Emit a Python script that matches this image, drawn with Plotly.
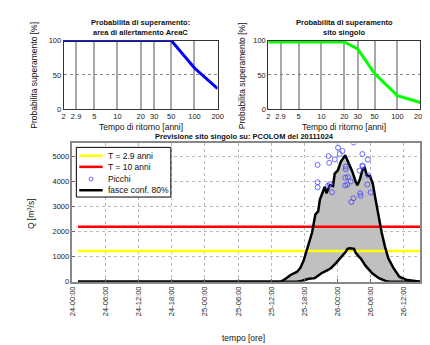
import plotly.graph_objects as go
import pandas as pd

# ---------------- data ----------------
return_periods = [2, 2.9, 5, 10, 20, 30, 50, 100, 200]
return_tick_labels = ["2", "2.9", "5", "10", "20", "30", "50", "100", "200"]
prob_area = [100, 100, 100, 100, 100, 100, 100, 60, 30]
prob_sito = [98, 98, 98, 98, 98, 88, 52, 20, 10]

start_time = "2011-10-24 00:00"
upper_hours = [1, 37.8, 38.6, 39.5, 40.7, 41.3, 41.9, 42.5, 42.8, 43.4, 44.0, 44.5, 44.8,
               45.4, 45.7, 46.0, 46.6, 47.2, 47.5, 48.1, 48.6, 49.4, 49.9, 50.7, 51.3,
               51.6, 52.1, 52.5, 52.9, 53.3, 53.9, 54.4, 54.8, 55.4, 56.0, 56.6, 57.2,
               58.1, 59.2, 60.4, 62.2, 63]
upper_q = [0, 10, 120, 270, 400, 560, 860, 1270, 1470, 1960, 2680, 2800, 3260,
           3650, 3780, 3520, 3840, 3810, 4300, 4440, 4770, 5030, 4770, 4380, 3970,
           3840, 4100, 4440, 4560, 4240, 4200, 3900, 3390, 2670, 1960, 1400, 930,
           560, 200, 80, 10, 0]
lower_hours = [1, 40.7, 41.6, 42.8, 43.9, 45.1, 46.3, 46.9, 47.8, 48.6, 49.5, 49.8,
               50.3, 51.0, 51.3, 51.9, 52.2, 53.1, 54.3, 55.5, 56.7, 57.5, 63]
lower_q = [0, 0, 40, 120, 145, 340, 470, 560, 760, 950, 1190, 1310,
           1330, 1310, 1150, 990, 930, 630, 340, 140, 30, 0, 0]

peak_hours = [44.4, 44.4, 44.4, 46.4, 46.5, 46.3, 46.6, 47.0, 47.5, 48.1, 48.4, 48.9,
              49.5, 49.5, 49.4, 49.9, 50.4, 49.4, 49.8, 50.9, 50.9, 50.5, 52.0, 52.5,
              52.6, 52.5, 53.5, 53.6, 53.4, 54.0, 52.1, 52.2]
peak_q = [4650, 3960, 3760, 5000, 4730, 3820, 3880, 3560, 4870, 5330, 5080, 5200,
          4580, 4480, 4140, 4160, 3990, 3830, 3870, 5540, 3320, 3170, 4420, 4620,
          4590, 5080, 4860, 4230, 3870, 3550, 3520, 3420]

threshold_hours = [1, 63]
q_t29 = 1220
q_t10 = 2190

time_ticks_hours = [0, 6, 12, 18, 24, 30, 36, 42, 48, 54, 60]
legend_labels = ["T = 2.9 anni", "T = 10 anni", "Picchi", "fasce conf. 80%"]

# ---------------- helpers ----------------
t0 = pd.Timestamp(start_time)
def to_time(hours):
    return [t0 + pd.Timedelta(hours=h) for h in hours]

W, H = 430, 345
def px_x(a, b):
    return [a / W, b / W]
def px_y(top, bottom):
    return [1 - bottom / H, 1 - top / H]
def fx(x):
    return x / W
def fy(y):
    return 1 - y / H

FONT = "Liberation Sans, Arial, sans-serif"
fig = go.Figure()

# ---------------- top subplots ----------------
fig.add_trace(go.Scatter(x=return_periods, y=prob_area, mode="lines",
                         line=dict(color="#0000ff", width=3), showlegend=False,
                         xaxis="x2", yaxis="y2"))
fig.add_trace(go.Scatter(x=return_periods, y=prob_sito, mode="lines",
                         line=dict(color="#00ff00", width=3), showlegend=False,
                         xaxis="x3", yaxis="y3"))

# ---------------- main plot ----------------
tu = to_time(upper_hours)
tl = to_time(lower_hours)
tth = to_time(threshold_hours)

fig.add_trace(go.Scatter(x=tl, y=lower_q, mode="lines", line=dict(width=0, color="#c0c0c0"),
                         showlegend=False, hoverinfo="skip"))
fig.add_trace(go.Scatter(x=tu, y=upper_q, mode="lines", line=dict(width=0, color="#c0c0c0"),
                         fill="tonexty", fillcolor="#c0c0c0", showlegend=False, hoverinfo="skip"))
fig.add_trace(go.Scatter(x=tth, y=[q_t29, q_t29], mode="lines", name=legend_labels[0],
                         line=dict(color="#ffff00", width=2.5), showlegend=False))
fig.add_trace(go.Scatter(x=tth, y=[q_t10, q_t10], mode="lines", name=legend_labels[1],
                         line=dict(color="#ff0000", width=2.5), showlegend=False))
fig.add_trace(go.Scatter(x=tl, y=lower_q, mode="lines", line=dict(color="black", width=2.5),
                         showlegend=False))
fig.add_trace(go.Scatter(x=tu, y=upper_q, mode="lines", name=legend_labels[3],
                         line=dict(color="black", width=2.5), showlegend=False))
fig.add_trace(go.Scatter(x=to_time(peak_hours), y=peak_q, mode="markers", name=legend_labels[2],
                         marker=dict(symbol="circle-open", color="rgba(70,70,255,0.8)", size=5,
                                     line=dict(width=1)), showlegend=False))

tickfont = dict(family=FONT, size=7.5, color="#222")
top_x_common = dict(type="log", range=[0.30103, 2.30103], tickvals=return_periods,
                    ticktext=return_tick_labels, tickfont=tickfont, showgrid=True,
                    gridcolor="#a8a8a8", gridwidth=2, showline=True, linecolor="#333",
                    linewidth=1, mirror=True, ticks="", zeroline=False, fixedrange=True)
top_y_common = dict(range=[0, 100], tickvals=[0, 50, 100], tickfont=tickfont,
                    showgrid=True, gridcolor="#888", griddash="dot", gridwidth=1,
                    showline=True, linecolor="#333", linewidth=1, mirror=True,
                    ticks="", zeroline=False)

fig.update_layout(
    width=W, height=H,
    margin=dict(l=0, r=0, t=0, b=0),
    paper_bgcolor="white", plot_bgcolor="white",
    font=dict(family=FONT, size=7.5, color="#222"),
    showlegend=False,
    xaxis=dict(domain=px_x(61, 418), type="date",
               range=[t0, t0 + pd.Timedelta(hours=63)],
               tickvals=to_time(time_ticks_hours), tickformat="%d-%H:%M",
               tickangle=-90, tickfont=tickfont, showgrid=True, gridcolor="#b8b8b8",
               griddash="dot", showline=True, linecolor="#888", linewidth=1.5,
               mirror=True, ticks="inside", ticklen=3, tickcolor="#666", zeroline=False),
    yaxis=dict(domain=px_y(135, 277), range=[0, 5500],
               tickvals=[0, 1000, 2000, 3000, 4000, 5000], tickfont=tickfont,
               showgrid=True, gridcolor="#b8b8b8", griddash="dot",
               showline=True, linecolor="#888", linewidth=1.5, mirror=True,
               ticks="inside", ticklen=3, tickcolor="#666", zeroline=False),
    xaxis2=dict(domain=px_x(52, 210), anchor="y2", **top_x_common),
    yaxis2=dict(domain=px_y(29.3, 100), anchor="x2", **top_y_common),
    xaxis3=dict(domain=px_x(262, 418), anchor="y3", **top_x_common),
    yaxis3=dict(domain=px_y(29.3, 100), anchor="x3", **top_y_common),
)

def ann(text, x, y, bold=False, angle=0, size=8.5, xanchor="center"):
    fig.add_annotation(text=("<b>%s</b>" % text) if bold else text,
                       x=fx(x), y=fy(y), xref="paper", yref="paper",
                       showarrow=False, textangle=angle,
                       font=dict(family=FONT, size=size, color="#111"),
                       xanchor=xanchor, yanchor="middle")

ann("Probabilita di superamento:", 131, 11, bold=True, size=7.5)
ann("area di allertamento AreaC", 131, 21, bold=True, size=7.5)
ann("Probabilita di superamento", 340, 11, bold=True, size=7.5)
ann("sito singolo", 340, 21, bold=True, size=7.5)
ann("Probabilita superamento [%]", 22, 65, angle=-90)
ann("Probabilita superamento [%]", 235, 65, angle=-90)
ann("Tempo di ritorno [anni]", 131, 118)
ann("Tempo di ritorno [anni]", 340, 118)
ann("Previsione sito singolo su: PCOLOM del 20111024", 238, 128, bold=True, size=7.5)
ann("Q [m<sup>3</sup>/s]", 19, 207, angle=-90)
ann("tempo [ore]", 237, 335)

# ---------------- legend box (drawn like the original compact legend) ----------------
fig.add_shape(type="rect", xref="paper", yref="paper",
              x0=fx(65), x1=fx(162), y0=fy(190), y1=fy(139),
              fillcolor="white", line=dict(color="black", width=1), layer="above")
legend_rows_y = [147.5, 159, 171.5, 183]
legend_line_colors = ["#ffff00", "#ff0000", None, "black"]
for label, yy, col in zip(legend_labels, legend_rows_y, legend_line_colors):
    if col is not None:
        fig.add_shape(type="line", xref="paper", yref="paper",
                      x0=fx(68), x1=fx(92), y0=fy(yy), y1=fy(yy),
                      line=dict(color=col, width=2.5), layer="above")
    else:
        fig.add_shape(type="circle", xref="paper", yref="paper",
                      x0=fx(78), x1=fx(82), y0=fy(yy + 2), y1=fy(yy - 2),
                      line=dict(color="rgba(70,70,255,0.8)", width=1), layer="above")
    ann(label, 95, yy, size=8.5, xanchor="left")

fig.write_html("out.html")
